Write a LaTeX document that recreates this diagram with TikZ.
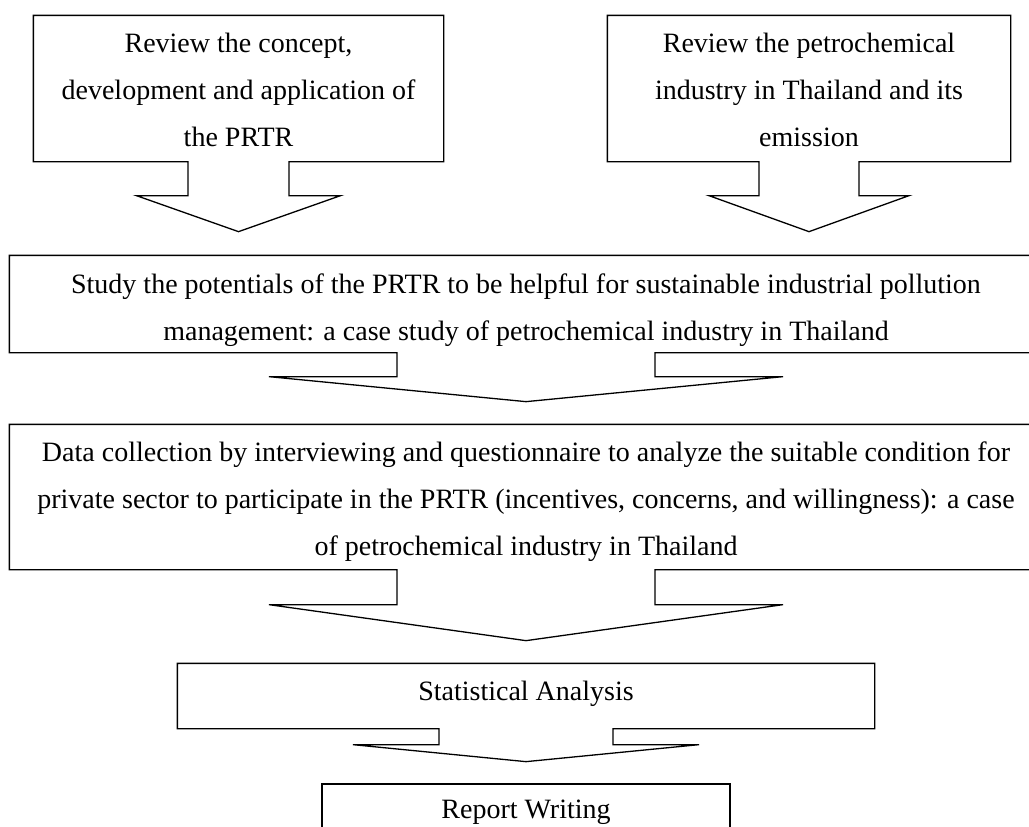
\documentclass[tikz,border=0pt]{standalone}
\usepackage{fontspec}
\setmainfont{Liberation Serif}
\usetikzlibrary{calc}
\newcommand\padtop[1]{\rule{0pt}{#1pt}}
\newcommand\padbot[1]{\rule[-#1pt]{0pt}{#1pt}}
\begin{document}
\begin{tikzpicture}[x=1pt,y=-1pt,line width=1.3pt,
    stage/.style={inner sep=0pt,align=center,font=\fontsize{28}{47}\selectfont}]
      \fill[white] (0,0) rectangle (1029,827);
      \path[use as bounding box,clip] (0,0) rectangle (1029,827);
      \node[stage,minimum width=409,minimum height=145] (concept) at (238.5,88.5)
        {\padtop{36}Review the concept,\\development and application of\\the PRTR\padbot{15}};
      \node[stage,minimum width=402,minimum height=145] (industry) at (809,88.5)
        {\padtop{36}Review the petrochemical\\industry in Thailand and its\\emission\padbot{15}};
      \node[stage,minimum width=1032,minimum height=96] (study) at (526,304)
        {\padtop{37}Study the potentials of the PRTR to be helpful for sustainable industrial pollution\\management: a case study of petrochemical industry in Thailand\padbot{12}};
      \node[stage,minimum width=1032,minimum height=144] (data) at (526,497)
        {\padtop{36}Data collection by interviewing and questionnaire to analyze the suitable condition for\\private sector to participate in the PRTR (incentives, concerns, and willingness): a case\\of petrochemical industry in Thailand\padbot{14}};
      \node[stage,minimum width=696,minimum height=64] (stats) at (526,696)
        {\padtop{36}Statistical Analysis\padbot{28}};
      \node[stage,draw,minimum width=408,minimum height=56] (report) at (526,812)
        {\padtop{34}Report Writing\padbot{22}};
      \begin{scope}[line join=miter]
        \draw (concept.south west) -- ($(concept.south)+(-50.5,0)$) -- ++(0,34) -- ++(-51.5,0)
          -- ($(concept.south)+(0,70)$) -- ++(102,-36) -- ++(-51.5,0) -- ++(0,-34)
          -- (concept.south east) |- (concept.north west) -- cycle;
        \draw (industry.south west) -- ($(industry.south)+(-50,0)$) -- ++(0,34) -- ++(-50,0)
          -- ($(industry.south)+(0,70)$) -- ++(100,-36) -- ++(-50,0) -- ++(0,-34)
          -- (industry.south east) |- (industry.north west) -- cycle;
        \draw (study.south west) -- ($(study.south)+(-129,0)$) -- ++(0,24) -- ++(-128,0)
          -- ($(study.south)+(0,49)$) -- ++(257,-25) -- ++(-128,0) -- ++(0,-24)
          -- (study.south east) |- (study.north west) -- cycle;
        \draw (data.south west) -- ($(data.south)+(-129,0)$) -- ++(0,35) -- ++(-128,0)
          -- ($(data.south)+(0,71)$) -- ++(257,-36) -- ++(-128,0) -- ++(0,-35)
          -- (data.south east) |- (data.north west) -- cycle;
        \draw (stats.south west) -- ($(stats.south)+(-87,0)$) -- ++(0,16) -- ++(-86,0)
          -- ($(stats.south)+(0,33)$) -- ++(173,-17) -- ++(-86,0) -- ++(0,-16)
          -- (stats.south east) |- (stats.north west) -- cycle;
      \end{scope}
    \end{tikzpicture}
\end{document}
